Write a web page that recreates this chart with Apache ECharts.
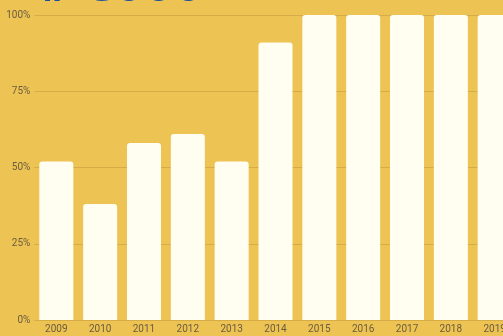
<!DOCTYPE html>
<html>
<head>
<meta charset="utf-8">
<script src="https://cdn.jsdelivr.net/npm/echarts@6/dist/echarts.min.js"></script>
<style>
  html, body { margin: 0; padding: 0; background: #EDC354; overflow: hidden; }
  #chart { width: 503px; height: 336px; }
</style>
</head>
<body>
<div id="chart"></div>
<script>
// Yearly share, in percent
const years = ['2009', '2010', '2011', '2012', '2013', '2014', '2015', '2016', '2017', '2018', '2019'];
const shares = [52, 38, 58, 61, 52, 91, 100, 100, 100, 100, 100];
const yTicks = [0, 25, 50, 75, 100];

const chart = echarts.init(document.getElementById('chart'), null, { renderer: 'canvas' });

chart.setOption({
  backgroundColor: '#EDC354',
  animation: false,
  graphic: [{
    type: 'text',
    x: 40,
    y: -37,
    style: {
      text: '# Cooo',
      font: 'bold 48px "Open Sans", sans-serif',
      fill: '#1B4F9E',
      verticalAlign: 'top'
    }
  }],
  // plot runs past the right edge so the last bar is cut off
  grid: {
    left: 34.4, width: 482.2, top: 15, bottom: 16,
    containLabel: false, outerBoundsMode: 'none'
  },
  xAxis: {
    type: 'category',
    data: years,
    axisLine: { show: true, lineStyle: { color: '#D6AC48', width: 1 } },
    axisTick: { show: false },
    axisLabel: {
      color: '#6A5C3E',
      fontFamily: 'Roboto, sans-serif',
      fontSize: 10,
      margin: 4
    }
  },
  yAxis: {
    type: 'value',
    min: yTicks[0],
    max: yTicks[yTicks.length - 1],
    interval: 25,
    axisLine: { show: false },
    axisTick: { show: false },
    splitLine: { lineStyle: { color: '#D6AC48', width: 1 } },
    axisLabel: {
      color: '#6A5C3E',
      fontFamily: 'Roboto, sans-serif',
      fontSize: 10,
      margin: 4,
      formatter: v => v + '%'
    }
  },
  series: [{
    type: 'bar',
    data: shares,
    barWidth: 34,
    itemStyle: { color: '#FFFEF1', borderRadius: [3, 3, 0, 0] }
  }]
});
</script>
</body>
</html>
